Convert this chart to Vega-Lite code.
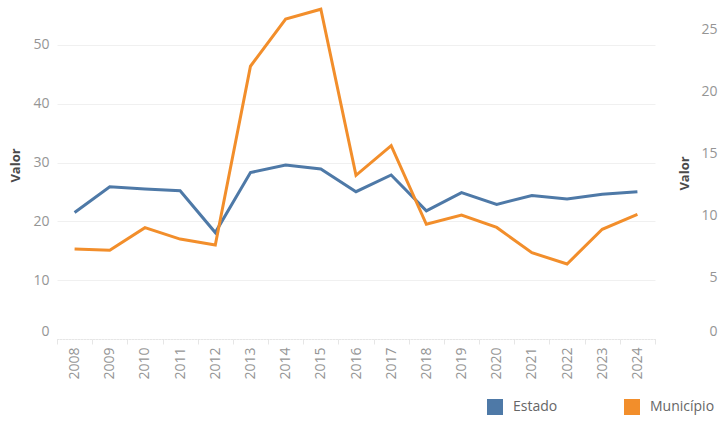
{
  "$schema": "https://vega.github.io/schema/vega-lite/v6.json",
  "width": 598,
  "height": 334,
  "autosize": "none",
  "padding": {"left": 57, "top": 5, "right": 63, "bottom": 83},
  "background": "white",
  "config": {
    "view": {"stroke": null},
    "font": "Open Sans",
    "axis": {"labelFont": "Open Sans", "titleFont": "Open Sans"}
  },
  "data": {
    "values": [
      {"ano": "2008", "serie": "Estado", "valor": 21.5},
      {"ano": "2009", "serie": "Estado", "valor": 25.9},
      {"ano": "2010", "serie": "Estado", "valor": 25.5},
      {"ano": "2011", "serie": "Estado", "valor": 25.2},
      {"ano": "2012", "serie": "Estado", "valor": 18.1},
      {"ano": "2013", "serie": "Estado", "valor": 28.3},
      {"ano": "2014", "serie": "Estado", "valor": 29.6},
      {"ano": "2015", "serie": "Estado", "valor": 28.9},
      {"ano": "2016", "serie": "Estado", "valor": 25.05},
      {"ano": "2017", "serie": "Estado", "valor": 27.9},
      {"ano": "2018", "serie": "Estado", "valor": 21.8},
      {"ano": "2019", "serie": "Estado", "valor": 24.9},
      {"ano": "2020", "serie": "Estado", "valor": 22.9},
      {"ano": "2021", "serie": "Estado", "valor": 24.4},
      {"ano": "2022", "serie": "Estado", "valor": 23.8},
      {"ano": "2023", "serie": "Estado", "valor": 24.6},
      {"ano": "2024", "serie": "Estado", "valor": 25.05},
      {"ano": "2008", "serie": "Município", "valor": 7.26},
      {"ano": "2009", "serie": "Município", "valor": 7.15},
      {"ano": "2010", "serie": "Município", "valor": 8.98},
      {"ano": "2011", "serie": "Município", "valor": 8.06},
      {"ano": "2012", "serie": "Município", "valor": 7.58},
      {"ano": "2013", "serie": "Município", "valor": 22.0},
      {"ano": "2014", "serie": "Município", "valor": 25.8},
      {"ano": "2015", "serie": "Município", "valor": 26.6},
      {"ano": "2016", "serie": "Município", "valor": 13.2},
      {"ano": "2017", "serie": "Município", "valor": 15.6},
      {"ano": "2018", "serie": "Município", "valor": 9.25},
      {"ano": "2019", "serie": "Município", "valor": 10.0},
      {"ano": "2020", "serie": "Município", "valor": 9.0},
      {"ano": "2021", "serie": "Município", "valor": 6.96},
      {"ano": "2022", "serie": "Município", "valor": 6.05},
      {"ano": "2023", "serie": "Município", "valor": 8.85},
      {"ano": "2024", "serie": "Município", "valor": 10.05}
    ]
  },
  "encoding": {
    "x": {
      "field": "ano",
      "type": "ordinal",
      "bandPosition": 0.5,
      "scale": {"type": "band", "paddingInner": 0, "paddingOuter": 0},
      "axis": {
        "title": null,
        "labelAngle": 270,
        "labelAlign": "right",
        "labelBaseline": "middle",
        "labelFontSize": 14,
        "labelColor": "#959595",
        "labelPadding": 3,
        "tickBand": "extent",
        "tickSize": 5,
        "tickColor": "#e6e6e6",
        "domainColor": "#dddddd",
        "domainDash": [1, 2],
        "grid": false
      }
    },
    "color": {
      "field": "serie",
      "type": "nominal",
      "scale": {"domain": ["Estado", "Município"], "range": ["#4e79a7", "#f28e2b"]},
      "legend": {
        "title": null,
        "orient": "none",
        "legendX": 430,
        "legendY": 394,
        "direction": "horizontal",
        "symbolType": "square",
        "symbolSize": 256,
        "labelFontSize": 14,
        "labelColor": "#666666",
        "labelFont": "Open Sans",
        "labelOffset": 10,
        "columnPadding": 66,
        "encode": {
          "symbols": {
            "update": {
              "fill": {"scale": "color", "field": "value"},
              "fillOpacity": {"value": 1},
              "strokeWidth": {"value": 0}
            }
          }
        }
      }
    }
  },
  "layer": [
    {
      "transform": [{"filter": "datum.serie === 'Estado'"}],
      "mark": {"type": "line", "strokeWidth": 3},
      "encoding": {
        "y": {
          "field": "valor",
          "type": "quantitative",
          "scale": {"domain": [0, 56.8], "nice": false},
          "axis": {
            "title": "Valor",
            "orient": "left",
            "values": [0, 10, 20, 30, 40, 50],
            "titleFontSize": 13,
            "titleFontWeight": "bold",
            "titleColor": "#4a4a4a",
            "titleAngle": 270,
            "titleBaseline": "middle",
            "titleX": -42,
            "titleY": 160,
            "labelFontSize": 14,
            "labelColor": "#959595",
            "labelPadding": 8,
            "labelOffset": {"condition": {"test": "datum.value === 0", "value": -8}, "value": 0},
            "ticks": false,
            "domain": false,
            "grid": true,
            "gridColor": "#f0f0f0",
            "gridWidth": 1
          }
        }
      }
    },
    {
      "transform": [{"filter": "datum.serie === 'Município'"}],
      "mark": {"type": "line", "strokeWidth": 3},
      "encoding": {
        "y": {
          "field": "valor",
          "type": "quantitative",
          "scale": {"domain": [0, 26.94], "nice": false},
          "axis": {
            "title": "Valor",
            "orient": "right",
            "values": [0, 5, 10, 15, 20, 25],
            "titleFontSize": 13,
            "titleFontWeight": "bold",
            "titleColor": "#4a4a4a",
            "titleAngle": 270,
            "titleBaseline": "middle",
            "titleX": 29,
            "titleY": 168,
            "labelFontSize": 14,
            "labelColor": "#959595",
            "labelAlign": "right",
            "labelPadding": 62,
            "labelOffset": {"condition": {"test": "datum.value === 0", "value": -8}, "value": 0},
            "ticks": false,
            "domain": false,
            "grid": false
          }
        }
      }
    }
  ],
  "resolve": {"scale": {"y": "independent"}}
}
